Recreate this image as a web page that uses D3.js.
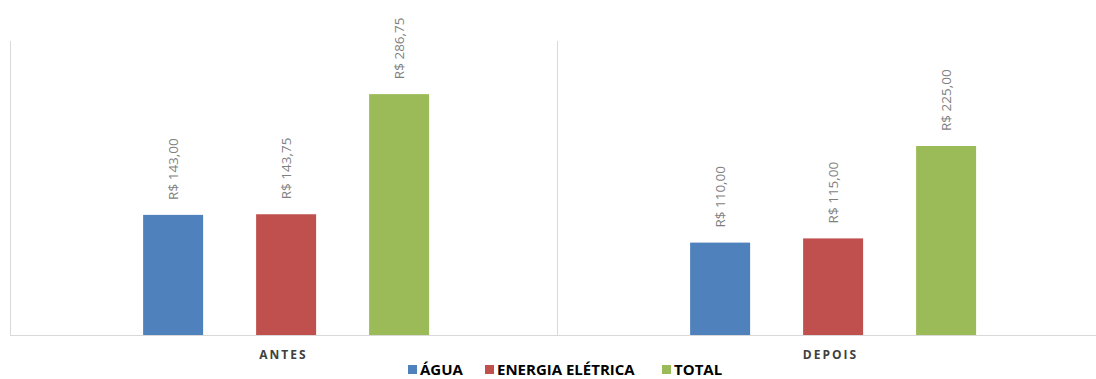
<!DOCTYPE html>
<html>
<head>
<meta charset="utf-8">
<script src="https://cdn.jsdelivr.net/npm/d3@7"></script>
<style>
  body { margin: 0; background: #fff; }
  svg { display: block; font-family: "Open Sans", "Liberation Sans", sans-serif; }
</style>
</head>
<body>
<svg id="chart" width="1096" height="379"></svg>
<script>
var categories = ['ANTES', 'DEPOIS']
var seriesNames = ['ÁGUA', 'ENERGIA ELÉTRICA', 'TOTAL']
var agua = [143.00, 110.00]
var energia = [143.75, 115.00]
var total = [286.75, 225.00]
var colors = ['#4f81bd', '#c0504d', '#9bbb59']

var series = [agua, energia, total]

const svg = d3.select('#chart')

var x0 = d3.scaleBand()
    .domain(categories)
    .range([10, 1104])

var x1 = d3.scaleBand()
    .domain(seriesNames)
    .range([0, x0.bandwidth()])
    .paddingInner(0.469)
    .paddingOuter(1.155)
    .align(0.51)

var y = d3.scaleLinear()
    .domain([0, 350])
    .range([335, 41])

var fmt = function(v) {
    return 'R$ ' + v.toFixed(2).replace('.', ',')
}

// frame lines
var grid = svg.append('g')
grid.selectAll('line.sep')
    .data(categories)
    .enter().append('line')
    .attr('x1', function(d) { return x0(d) + 0.5 })
    .attr('x2', function(d) { return x0(d) + 0.5 })
    .attr('y1', y.range()[1])
    .attr('y2', y(0))
    .attr('stroke', '#d9d9d9')
grid.append('line')
    .attr('x1', x0.range()[0])
    .attr('x2', 1096)
    .attr('y1', y(0) + 0.5)
    .attr('y2', y(0) + 0.5)
    .attr('stroke', '#d9d9d9')

var groups = svg.selectAll('g.cat')
    .data(categories)
    .enter().append('g')
    .attr('class', 'cat')
    .attr('transform', function(d) { return 'translate(' + x0(d) + ',0)' })

groups.each(function(cat, ci) {
    var g = d3.select(this)
    var rows = seriesNames.map(function(s, si) {
        return { name: s, value: series[si][ci], color: colors[si] }
    })

    g.selectAll('rect')
        .data(rows)
        .enter().append('rect')
        .attr('x', function(d) { return x1(d.name) })
        .attr('y', function(d) { return y(d.value) })
        .attr('width', x1.bandwidth())
        .attr('height', function(d) { return y(0) - y(d.value) })
        .attr('fill', function(d) { return d.color })

    g.selectAll('text.lbl')
        .data(rows)
        .enter().append('text')
        .attr('class', 'lbl')
        .attr('transform', function(d) {
            return 'translate(' + (x1(d.name) + x1.bandwidth() / 2 + 5) + ',' + (y(d.value) - 15) + ') rotate(-90)'
        })
        .attr('font-size', 13.5)
        .attr('fill', '#7f7f7f')
        .text(function(d) { return fmt(d.value) })

    g.append('text')
        .attr('x', x0.bandwidth() / 2)
        .attr('y', 359)
        .attr('text-anchor', 'middle')
        .attr('font-size', 12)
        .attr('font-weight', 'bold')
        .attr('letter-spacing', 2)
        .attr('fill', '#404040')
        .text(cat)
})

// legend
var legendX = [408, 485, 662]
var legend = svg.append('g')
var items = legend.selectAll('g')
    .data(seriesNames)
    .enter().append('g')
    .attr('transform', function(d, i) { return 'translate(' + legendX[i] + ',0)' })
items.append('rect')
    .attr('x', 0)
    .attr('y', 365)
    .attr('width', 9)
    .attr('height', 9)
    .attr('fill', function(d, i) { return colors[i] })
items.append('text')
    .attr('x', 12)
    .attr('y', 375)
    .attr('font-size', 15)
    .attr('font-weight', 'bold')
    .attr('fill', '#000')
    .text(function(d) { return d })
</script>
</body>
</html>
